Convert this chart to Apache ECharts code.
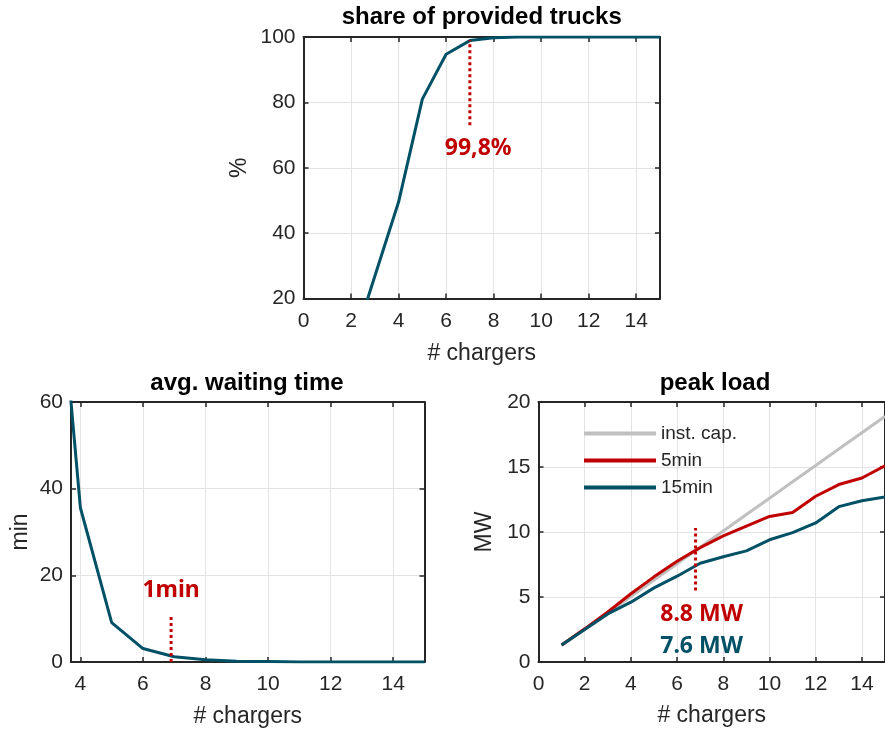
<!DOCTYPE html>
<html>
<head>
<meta charset="utf-8">
<script src="https://cdn.jsdelivr.net/npm/echarts@6/dist/echarts.min.js"></script>
<style>html,body{margin:0;padding:0;background:#fff;}#c{width:885px;height:729px;}</style>
</head>
<body>
<div id="c"></div>
<script>
// ---- data ----
const chargersTop = [1,2,3,4,5,6,7,8,9,10,11,12,13,14,15];
const shareProvided = [0, 4, 26.8, 49.5, 81, 94.7, 98.9, 99.8, 100, 100, 100, 100, 100, 100, 100];

const chargersWait = [3,4,5,6,7,8,9,10,11,12,13,14,15];
const waitingTime = [117, 35.6, 9.1, 3.1, 1.2, 0.5, 0.2, 0.1, 0, 0, 0, 0, 0];

const chargersPeak = [1,2,3,4,5,6,7,8,9,10,11,12,13,14,15];
const instCap = [1.26, 2.52, 3.78, 5.04, 6.3, 7.56, 8.82, 10.08, 11.34, 12.6, 13.86, 15.12, 16.38, 17.64, 18.9];
const peak5min = [1.3, 2.55, 3.85, 5.25, 6.55, 7.75, 8.8, 9.7, 10.45, 11.2, 11.5, 12.75, 13.65, 14.15, 15.1];
const peak15min = [1.3, 2.5, 3.7, 4.6, 5.7, 6.6, 7.6, 8.1, 8.55, 9.4, 9.95, 10.7, 11.95, 12.4, 12.7];

const markTop = [[7, 73], [7, 99]];
const markWait = [[6.9, 0], [6.9, 10.8]];
const markPeak = [[6.8, 5.5], [6.8, 10.3]];

const labelTop = {text: '99,8%', pos: [7.35, 66]};
const labelWait = {text: '1min', pos: [6.9, 16.5]};
const labelPeak5 = {text: '8.8 MW', pos: [7.06, 3.67]};
const labelPeak15 = {text: '7.6 MW', pos: [7.06, 1.23]};

// ---- styles ----
const TEAL = '#005066';
const RED = '#c00000';
const GRAY = '#c0c0c0';
const AXC = '#262626';
const FONT = 'Liberation Sans, Arial, sans-serif';

function zip(xs, ys) { return xs.map((x, i) => [x, ys[i]]); }

function mainX(grid, min, max, interval, nameGap) {
  const a = {
    type: 'value', gridIndex: grid, position: 'bottom', min: min, max: max,
    name: '# chargers', nameLocation: 'middle', nameGap: nameGap,
    nameTextStyle: {fontFamily: FONT, fontSize: 23, color: AXC},
    axisLine: {show: true, onZero: false, lineStyle: {color: AXC, width: 2}},
    axisTick: {show: true, inside: true, length: 5, lineStyle: {color: AXC, width: 1.5}},
    axisLabel: {fontFamily: FONT, fontSize: 21, color: AXC, margin: 12, showMaxLabel: false},
    splitLine: {show: true, lineStyle: {color: '#e3e3e3', width: 1}}
  };
  if (interval) a.interval = interval; else { a.splitNumber = 6; a.axisLabel.showMinLabel = false; }
  return a;
}
function topX(grid, min, max, interval) {
  const a = {
    type: 'value', gridIndex: grid, position: 'top', min: min, max: max,
    axisLine: {show: true, onZero: false, lineStyle: {color: AXC, width: 2}},
    axisTick: {show: true, inside: true, length: 5, lineStyle: {color: AXC, width: 1.5}},
    axisLabel: {show: false}, splitLine: {show: false}
  };
  if (interval) a.interval = interval; else a.splitNumber = 6;
  return a;
}
function mainY(grid, min, max, interval, name, nameGap) {
  return {
    type: 'value', gridIndex: grid, position: 'left', min: min, max: max, interval: interval,
    name: name, nameLocation: 'middle', nameGap: nameGap,
    nameTextStyle: {fontFamily: FONT, fontSize: 23, color: AXC},
    axisLine: {show: true, onZero: false, lineStyle: {color: AXC, width: 2}},
    axisTick: {show: true, inside: true, length: 5, lineStyle: {color: AXC, width: 1.5}},
    axisLabel: {fontFamily: FONT, fontSize: 21, color: AXC, margin: 8},
    splitLine: {show: true, lineStyle: {color: '#e3e3e3', width: 1}}
  };
}
function rightY(grid, min, max, interval) {
  return {
    type: 'value', gridIndex: grid, position: 'right', min: min, max: max, interval: interval,
    axisLine: {show: true, onZero: false, lineStyle: {color: AXC, width: 2}},
    axisTick: {show: true, inside: true, length: 5, lineStyle: {color: AXC, width: 1.5}},
    axisLabel: {show: false}, splitLine: {show: false}
  };
}
function lineSeries(name, xi, yi, data, color, z) {
  return {
    name: name, type: 'line', xAxisIndex: xi, yAxisIndex: yi, data: data,
    symbol: 'none', smooth: false, clip: true, z: z || 2,
    lineStyle: {color: color, width: 3}, itemStyle: {color: color}
  };
}
function dotted(xi, yi, data) {
  return {
    type: 'line', xAxisIndex: xi, yAxisIndex: yi, data: data, symbol: 'none', z: 5,
    lineStyle: {color: RED, width: 3, type: [3, 3]}, itemStyle: {color: RED}, silent: true
  };
}
function textMark(xi, yi, lab, color) {
  return {
    type: 'scatter', xAxisIndex: xi, yAxisIndex: yi, data: [lab.pos], symbolSize: 0, z: 6, silent: true,
    itemStyle: {color: color, opacity: 1},
    label: {show: true, position: 'inside', formatter: lab.text, color: color, opacity: 1,
      textBorderWidth: 0, textShadowBlur: 0,
      fontFamily: 'Noto Sans, sans-serif', fontWeight: 'bold', fontSize: 23}
  };
}

const titleStyle = {fontFamily: FONT, fontSize: 24, fontWeight: 'bold', color: '#000'};

const option = {
  animation: false,
  backgroundColor: '#ffffff',
  title: [
    {text: 'share of provided trucks', left: 481.7, top: 5, textAlign: 'center', padding: 0, textStyle: titleStyle},
    {text: 'avg. waiting time', left: 247, top: 371, textAlign: 'center', padding: 0, textStyle: titleStyle},
    {text: 'peak load', left: 715, top: 371, textAlign: 'center', padding: 0, textStyle: titleStyle}
  ],
  legend: {
    data: ['inst. cap.', '5min', '15min'],
    orient: 'vertical', left: 582, top: 424, padding: 0,
    itemWidth: 72, itemHeight: 19, itemGap: 8,
    itemStyle: {opacity: 0},
    lineStyle: {width: 4},
    textStyle: {fontFamily: FONT, fontSize: 19, color: AXC}
  },
  grid: [
    {left: 303.5, top: 37, width: 356.5, height: 261.5, containLabel: false},
    {left: 71, top: 402, width: 353.5, height: 260, containLabel: false},
    {left: 538.5, top: 402, width: 356, height: 260, containLabel: false}
  ],
  xAxis: [
    mainX(0, 0, 15, 2, 44), topX(0, 0, 15, 2),
    mainX(1, 3.7, 15, null, 43), topX(1, 3.7, 15, null),
    mainX(2, 0, 15, 2, 42), topX(2, 0, 15, 2)
  ],
  yAxis: [
    mainY(0, 20, 100, 20, '%', 52), rightY(0, 20, 100, 20),
    mainY(1, 0, 60, 20, 'min', 39), rightY(1, 0, 60, 20),
    mainY(2, 0, 20, 5, 'MW', 42), rightY(2, 0, 20, 5)
  ],
  series: [
    lineSeries('share', 0, 0, zip(chargersTop, shareProvided), TEAL),
    dotted(0, 0, markTop),
    textMark(0, 0, labelTop, RED),

    lineSeries('waiting', 2, 2, zip(chargersWait, waitingTime), TEAL),
    dotted(2, 2, markWait),
    textMark(2, 2, labelWait, RED),

    lineSeries('inst. cap.', 4, 4, zip(chargersPeak, instCap), GRAY, 2),
    lineSeries('5min', 4, 4, zip(chargersPeak, peak5min), RED, 3),
    lineSeries('15min', 4, 4, zip(chargersPeak, peak15min), TEAL, 4),
    dotted(4, 4, markPeak),
    textMark(4, 4, labelPeak5, RED),
    textMark(4, 4, labelPeak15, TEAL)
  ]
};

const chart = echarts.init(document.getElementById('c'), null, {renderer: 'canvas'});
chart.setOption(option);
</script>
</body>
</html>
